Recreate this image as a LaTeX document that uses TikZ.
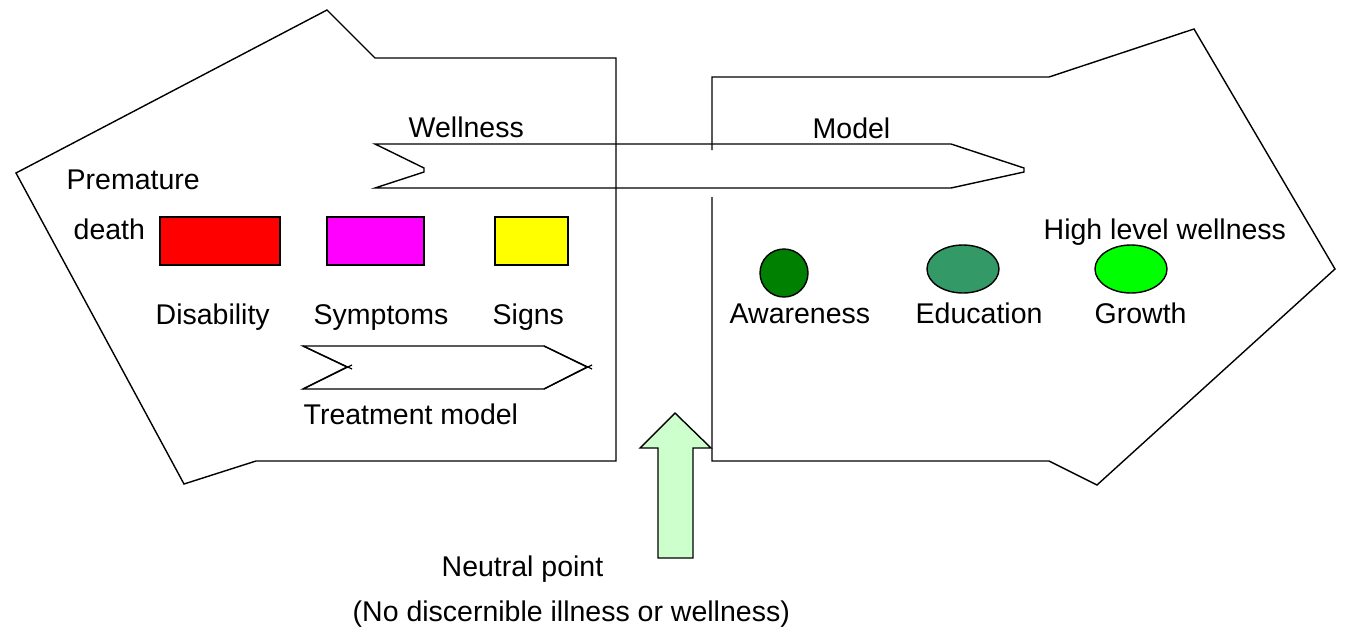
\documentclass[tikz,border=0pt]{standalone}
\usepackage{fontspec}
\setmainfont{Liberation Sans}
\usetikzlibrary{shapes.geometric}
\definecolor{dkgreen}{HTML}{008000}
\definecolor{seagreen}{HTML}{339966}
\definecolor{brgreen}{HTML}{00FF00}
\definecolor{palegreen}{HTML}{CCFFCC}
\definecolor{pureRed}{HTML}{FF0000}
\definecolor{pureMagenta}{HTML}{FF00FF}
\definecolor{pureYellow}{HTML}{FFFF00}
\begin{document}
\begin{tikzpicture}[x=1pt,y=-1pt,line width=1.4pt,line join=miter,
  lbl/.style={anchor=base west,inner sep=0pt,font=\fontsize{28.5}{34}\selectfont},
  boxshape/.style={draw,rectangle,inner sep=0pt,minimum height=48pt},
  ovalshape/.style={draw,ellipse,inner sep=0pt,minimum height=48pt}]
\useasboundingbox (0,0) rectangle (1345,638);
% left region
\draw (327,10)--(375,58)--(616,58)--(616,461)--(256,461)--(184,484)--(16,173)--cycle;
% right region (left edge interrupted by the wellness arrow)
\draw (712,150)--(712,77)--(1049,77)--(1194,29)--(1335,269)--(1097,485)--(1049,461)--(712,461)--(712,197);
% wellness model arrow
\draw (375,144)--(951,144)--(1024,168)--(1024,172)--(951,188)--(375,188)--(424,172)--(424,168)--cycle;
% treatment model arrow
\draw (303,346)--(544,346)--(587,367)--(544,389)--(303,389)--(347,367)--cycle;
\draw[line width=1.2pt] (303,346)--(352,369) (303,389)--(352,365);
\draw[line width=1.2pt] (544,346)--(592,369) (544,389)--(592,365);
% neutral point arrow
\draw[fill=palegreen] (658,558)--(658,448)--(640,448)--(675,413)--(711,448)--(693,448)--(693,558)--cycle;
% boxes
\node[boxshape,fill=pureRed,minimum width=120pt] (dis) at (220,241) {};
\node[boxshape,fill=pureMagenta,minimum width=97pt] (sym) at (375.5,241) {};
\node[boxshape,fill=pureYellow,minimum width=73pt] (sig) at (531.5,241) {};
\node[ovalshape,fill=dkgreen,minimum width=48pt] (awa) at (784,273) {};
\node[ovalshape,fill=seagreen,minimum width=72pt] (edu) at (963,269) {};
\node[ovalshape,fill=brgreen,minimum width=72pt] (gro) at (1131,269) {};
% labels
\node[lbl] (twell) at (408,137) {Wellness};
\node[lbl] (tmodel) at (812,138) {Model};
\node[lbl] (tprem) at (66,189) {Premature};
\node[lbl] (tdeath) at (73,239) {death};
\node[lbl] (tdis) at (155,324) {Disability};
\node[lbl] (tsym) at (313,324) {Symptoms};
\node[lbl] (tsig) at (492,324) {Signs};
\node[lbl] (tawa) at (729,323) {Awareness};
\node[lbl] (tedu) at (915,323) {Education};
\node[lbl] (tgro) at (1094,323) {Growth};
\node[lbl] (thigh) at (1043,239) {High level wellness};
\node[lbl] (ttreat) at (303,424) {Treatment model};
\node[lbl] (tneut) at (441,576) {Neutral point};
\node[lbl] (tnone) at (352,621) {(No discernible illness or wellness)};
\end{tikzpicture}
\end{document}
